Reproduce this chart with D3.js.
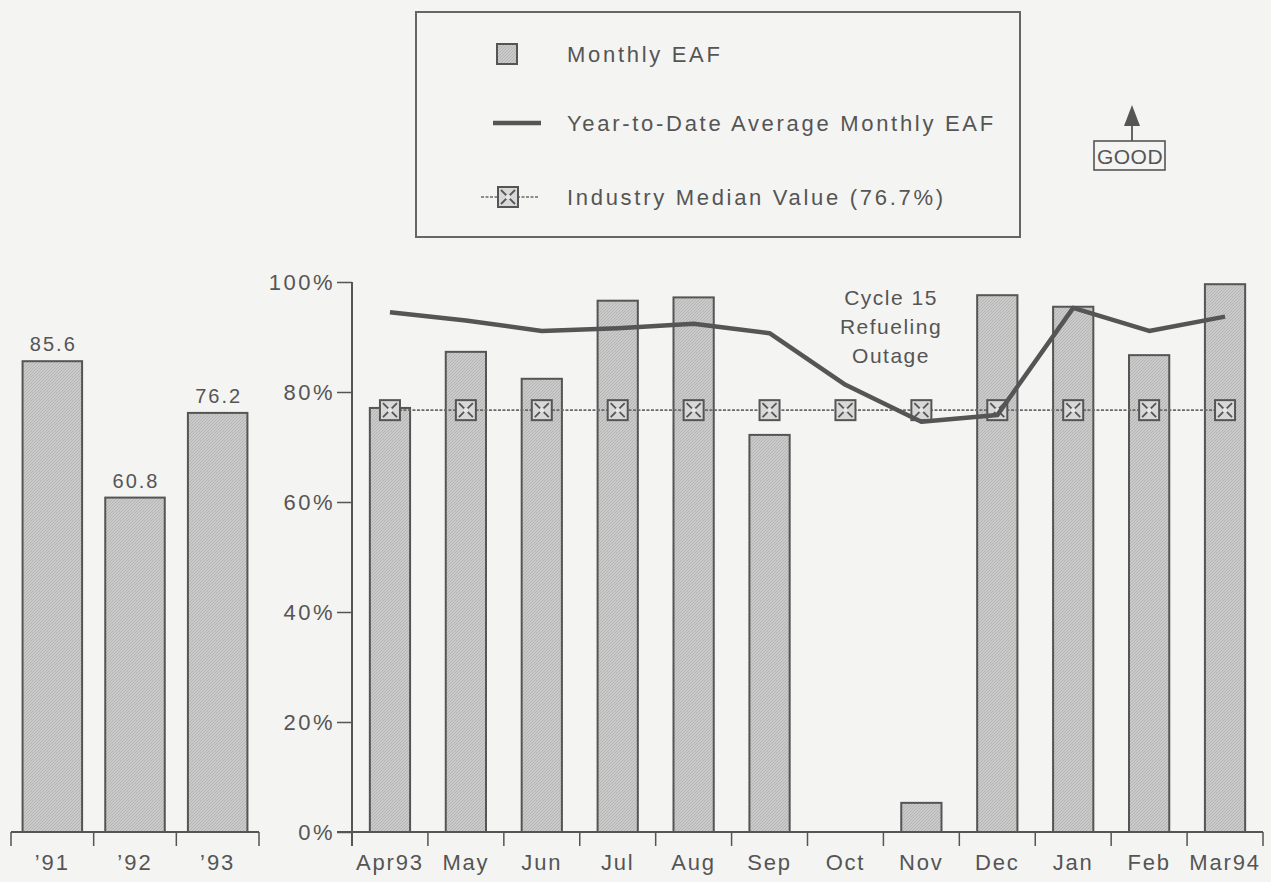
<!DOCTYPE html>
<html lang="en">
<head>
<meta charset="UTF-8">
<title>Monthly EAF</title>
<script src="https://d3js.org/d3.v7.min.js"></script>
<style>
  body { margin: 0; background: #f4f4f2; }
  svg { display: block; }
  text { font-family: "Liberation Sans", Arial, sans-serif; fill: #555; }
</style>
</head>
<body>
<svg id="chart" width="1271" height="882"></svg>
<script>
// annual values (left panel)
const years = ["\u201991", "\u201992", "\u201993"];
const yearValues = [85.6, 60.8, 76.2];

// monthly values (main panel)
const months = ["Apr93", "May", "Jun", "Jul", "Aug", "Sep", "Oct", "Nov", "Dec", "Jan", "Feb", "Mar94"];
const monthlyEAF = [77.1, 87.3, 82.4, 96.6, 97.2, 72.2, 0, 5.3, 97.6, 95.5, 86.7, 99.6];
const ytdAverage = [94.5, 93.0, 91.1, 91.6, 92.4, 90.7, 81.3, 74.6, 75.8, 95.3, 91.1, 93.7];
const industryMedian = 76.7;
const yTicks = [0, 20, 40, 60, 80, 100];

const legendLabels = ["Monthly EAF", "Year-to-Date Average Monthly EAF", "Industry Median Value (76.7%)"];
const noteLines = ["Cycle 15", "Refueling", "Outage"];

const svg = d3.select("#chart");
const ink = "#555";

// hatched grey fill like the printed bars
const defs = svg.append("defs");
const pat = defs.append("pattern")
  .attr("id", "hatch")
  .attr("patternUnits", "userSpaceOnUse")
  .attr("width", 3).attr("height", 3);
pat.append("rect").attr("width", 3).attr("height", 3).attr("fill", "#cacaca");
pat.append("path").attr("d", "M0,3 L3,0").attr("stroke", "#b0b0b0").attr("stroke-width", 0.8);

const y = d3.scaleLinear().domain([0, 100]).range([832, 282]);

// ---- left panel: yearly values ----
const xl = d3.scaleBand()
  .domain(years)
  .range([11, 259])
  .paddingInner(0.28)
  .paddingOuter(0.14);

svg.selectAll(".ybar")
  .data(years)
  .enter()
  .append("rect")
  .attr("class", "ybar")
  .attr("x", d => xl(d))
  .attr("y", (d, i) => y(yearValues[i]))
  .attr("width", xl.bandwidth())
  .attr("height", (d, i) => y(0) - y(yearValues[i]))
  .attr("fill", "url(#hatch)")
  .attr("stroke", ink)
  .attr("stroke-width", 2);

svg.selectAll(".yval")
  .data(years)
  .enter()
  .append("text")
  .attr("class", "yval")
  .attr("x", d => xl(d) + xl.bandwidth() / 2 + 1)
  .attr("y", (d, i) => y(yearValues[i]) - 10)
  .attr("text-anchor", "middle")
  .style("font-size", "20px")
  .style("letter-spacing", "2px")
  .text((d, i) => yearValues[i].toFixed(1));

const leftAxis = svg.append("g")
  .attr("transform", `translate(0,${y(0)})`)
  .call(d3.axisBottom(xl).tickSize(0).tickPadding(22));
leftAxis.select(".domain").remove();
leftAxis.selectAll("text")
  .style("font-size", "22px")
  .style("letter-spacing", "2px")
  .attr("fill", ink);

svg.append("line")
  .attr("x1", xl.range()[0]).attr("x2", xl.range()[1])
  .attr("y1", y(0)).attr("y2", y(0))
  .attr("stroke", ink).attr("stroke-width", 2);

svg.selectAll(".ltick")
  .data(d3.range(years.length + 1))
  .enter()
  .append("line")
  .attr("class", "ltick")
  .attr("x1", i => xl.range()[0] + i * xl.step())
  .attr("x2", i => xl.range()[0] + i * xl.step())
  .attr("y1", y(0)).attr("y2", y(0) + 14)
  .attr("stroke", ink).attr("stroke-width", 1.5);

// ---- main panel: monthly values ----
const x = d3.scaleBand()
  .domain(months)
  .range([352, 1263])
  .paddingInner(0.47)
  .paddingOuter(0.235);

const cx = d => x(d) + x.bandwidth() / 2;

svg.selectAll(".mbar")
  .data(months)
  .enter()
  .append("rect")
  .attr("class", "mbar")
  .attr("x", d => x(d))
  .attr("y", (d, i) => y(monthlyEAF[i]))
  .attr("width", x.bandwidth())
  .attr("height", (d, i) => y(0) - y(monthlyEAF[i]))
  .attr("fill", "url(#hatch)")
  .attr("stroke", ink)
  .attr("stroke-width", 2)
  .style("display", (d, i) => monthlyEAF[i] > 0 ? null : "none");

// y axis
const yAxis = svg.append("g")
  .attr("transform", "translate(352,0)")
  .call(d3.axisLeft(y).tickValues(yTicks).tickSize(15).tickSizeOuter(0).tickPadding(2).tickFormat(d => d + "%"));
yAxis.select(".domain").remove();
yAxis.selectAll("line").attr("stroke", ink).attr("stroke-width", 1.5);
yAxis.selectAll("text")
  .style("font-size", "22px")
  .style("letter-spacing", "2.5px")
  .attr("fill", ink);

svg.append("line")
  .attr("x1", 352).attr("x2", 352)
  .attr("y1", y(100)).attr("y2", y(0) + 14)
  .attr("stroke", ink).attr("stroke-width", 2);

// x axis
const xAxis = svg.append("g")
  .attr("transform", `translate(0,${y(0)})`)
  .call(d3.axisBottom(x).tickSize(0).tickPadding(22));
xAxis.select(".domain").remove();
xAxis.selectAll("text")
  .style("font-size", "22px")
  .style("letter-spacing", "1.8px")
  .attr("fill", ink);

svg.append("line")
  .attr("x1", 337).attr("x2", x.range()[1])
  .attr("y1", y(0)).attr("y2", y(0))
  .attr("stroke", ink).attr("stroke-width", 2);

svg.selectAll(".mtick")
  .data(d3.range(1, months.length + 1))
  .enter()
  .append("line")
  .attr("class", "mtick")
  .attr("x1", i => x.range()[0] + i * x.step())
  .attr("x2", i => x.range()[0] + i * x.step())
  .attr("y1", y(0)).attr("y2", y(0) + 14)
  .attr("stroke", ink).attr("stroke-width", 1.5);

// industry median
svg.append("line")
  .attr("x1", cx(months[0])).attr("x2", cx(months[months.length - 1]))
  .attr("y1", y(industryMedian)).attr("y2", y(industryMedian))
  .attr("stroke", "#6a6a6a").attr("stroke-width", 1.6)
  .attr("stroke-dasharray", "3,1.5");

function drawMarker(g, px, py, s) {
  g.append("rect")
    .attr("x", px - s / 2).attr("y", py - s / 2)
    .attr("width", s).attr("height", s)
    .attr("fill", "#d8d8d8").attr("stroke", ink).attr("stroke-width", 2);
  g.append("path")
    .attr("d", `M${px - s / 2 + 3},${py - s / 2 + 3}L${px + s / 2 - 3},${py + s / 2 - 3}M${px + s / 2 - 3},${py - s / 2 + 3}L${px - s / 2 + 3},${py + s / 2 - 3}`)
    .attr("stroke", ink).attr("stroke-width", 1.8);
  g.append("circle")
    .attr("cx", px).attr("cy", py).attr("r", 2.5)
    .attr("fill", "#e6e6e6");
}

const markers = svg.append("g");
months.forEach(m => drawMarker(markers, cx(m), y(industryMedian), 20));

// year-to-date average
const line = d3.line()
  .x((d, i) => cx(months[i]))
  .y(d => y(d));

svg.append("path")
  .datum(ytdAverage)
  .attr("d", line)
  .attr("fill", "none")
  .attr("stroke", "#555")
  .attr("stroke-width", 4.5)
  .attr("stroke-linejoin", "round");

// outage note
svg.selectAll(".note")
  .data(noteLines)
  .enter()
  .append("text")
  .attr("class", "note")
  .attr("x", 891)
  .attr("y", (d, i) => 305 + i * 29)
  .attr("text-anchor", "middle")
  .style("font-size", "21px")
  .style("letter-spacing", "1.5px")
  .text(d => d);

// ---- legend ----
svg.append("rect")
  .attr("x", 416).attr("y", 12)
  .attr("width", 604).attr("height", 225)
  .attr("fill", "none")
  .attr("stroke", "#666").attr("stroke-width", 2);

const legendY = [54, 123, 197];

svg.append("rect")
  .attr("x", 497).attr("y", legendY[0] - 10)
  .attr("width", 20).attr("height", 20)
  .attr("fill", "url(#hatch)")
  .attr("stroke", ink).attr("stroke-width", 2);

svg.append("line")
  .attr("x1", 493).attr("x2", 541)
  .attr("y1", legendY[1]).attr("y2", legendY[1])
  .attr("stroke", "#555").attr("stroke-width", 4.5);

svg.append("line")
  .attr("x1", 481).attr("x2", 538)
  .attr("y1", legendY[2]).attr("y2", legendY[2])
  .attr("stroke", "#6a6a6a").attr("stroke-width", 1.6)
  .attr("stroke-dasharray", "3,1.5");
drawMarker(svg.append("g"), 508, legendY[2], 20);

svg.selectAll(".legtext")
  .data(legendLabels)
  .enter()
  .append("text")
  .attr("class", "legtext")
  .attr("x", 567)
  .attr("y", (d, i) => legendY[i] + 8)
  .style("font-size", "22px")
  .style("letter-spacing", "2.7px")
  .text(d => d);

// ---- GOOD arrow ----
svg.append("rect")
  .attr("x", 1094).attr("y", 141)
  .attr("width", 71).attr("height", 29)
  .attr("fill", "none")
  .attr("stroke", ink).attr("stroke-width", 1.6);
svg.append("text")
  .attr("x", 1130).attr("y", 164)
  .attr("text-anchor", "middle")
  .style("font-size", "21px")
  .style("letter-spacing", "0.5px")
  .text("GOOD");
svg.append("line")
  .attr("x1", 1132).attr("x2", 1132)
  .attr("y1", 120).attr("y2", 141)
  .attr("stroke", ink).attr("stroke-width", 1.8);
svg.append("path")
  .attr("d", "M1132,105L1140,126L1124,126Z")
  .attr("fill", ink);
</script>
</body>
</html>
